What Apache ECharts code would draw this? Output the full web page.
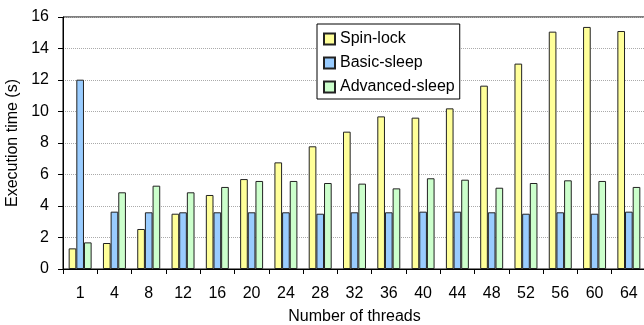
<!DOCTYPE html>
<html><head><meta charset="utf-8">
<script src="https://cdn.jsdelivr.net/npm/echarts@6/dist/echarts.min.js"></script>
<style>html,body{margin:0;padding:0;background:#fff}#c{width:644px;height:325px}</style>
</head><body><div id="c"></div>
<script>
const categories = ['1','4','8','12','16','20','24','28','32','36','40','44','48','52','56','60','64'];
const spinLock = [1.31,1.65,2.54,3.51,4.70,5.71,6.77,7.79,8.72,9.69,9.61,10.2,11.64,13.04,15.07,15.37,15.11];
const basicSleep = [12.02,3.64,3.60,3.60,3.60,3.60,3.60,3.51,3.60,3.60,3.64,3.64,3.60,3.51,3.60,3.51,3.64];
const advancedSleep = [1.69,4.87,5.29,4.87,5.21,5.59,5.59,5.46,5.42,5.12,5.76,5.67,5.16,5.46,5.63,5.59,5.21];
const yTicks = [0,2,4,6,8,10,12,14,16];

const font = 'Liberation Sans, Arial, sans-serif';
const chart = echarts.init(document.getElementById('c'));
function bar(name, data, color){
  return {name, type:'bar', data, barGap:'0%', barCategoryGap:'33%',
    itemStyle:{color, borderColor:'#222', borderWidth:1}};
}
chart.setOption({
  animation:false,
  textStyle:{fontFamily:font},
  grid:{left:63, right:-2, top:17, bottom:56, containLabel:false, outerBoundsMode:'none',
    show:true, borderColor:'#000', borderWidth:1},
  legend:{orient:'vertical', left:317, top:24, itemWidth:11, itemHeight:11, itemGap:8, icon:'rect',
    padding:[7,5,4,6], borderColor:'#000', borderWidth:1, backgroundColor:'#fff',
    textStyle:{fontFamily:font, fontSize:16, color:'#000', lineHeight:16},
    data:['Spin-lock','Basic-sleep','Advanced-sleep']},
  xAxis:{type:'category', data:categories, name:'Number of threads', nameLocation:'middle', nameGap:40,
    nameTextStyle:{fontFamily:font, fontSize:16, color:'#000'},
    axisLine:{lineStyle:{color:'#000'}},
    axisTick:{show:true, length:5, alignWithLabel:false, lineStyle:{color:'#000'}},
    axisLabel:{fontFamily:font, fontSize:16, color:'#000', margin:17}},
  yAxis:{type:'value', min:yTicks[0], max:yTicks[yTicks.length-1], interval:2,
    name:'Execution time (s)', nameLocation:'middle', nameGap:37,
    nameTextStyle:{fontFamily:font, fontSize:16, color:'#000'},
    axisLine:{show:true, lineStyle:{color:'#000'}},
    axisTick:{show:true, length:5, lineStyle:{color:'#000'}},
    axisLabel:{fontFamily:font, fontSize:16, color:'#000', margin:14},
    splitLine:{lineStyle:{color:'#aaa', type:'dotted'}}},
  series:[bar('Spin-lock', spinLock, '#ffff99'), bar('Basic-sleep', basicSleep, '#99ccff'), bar('Advanced-sleep', advancedSleep, '#ccffcc')]
});
</script></body></html>
